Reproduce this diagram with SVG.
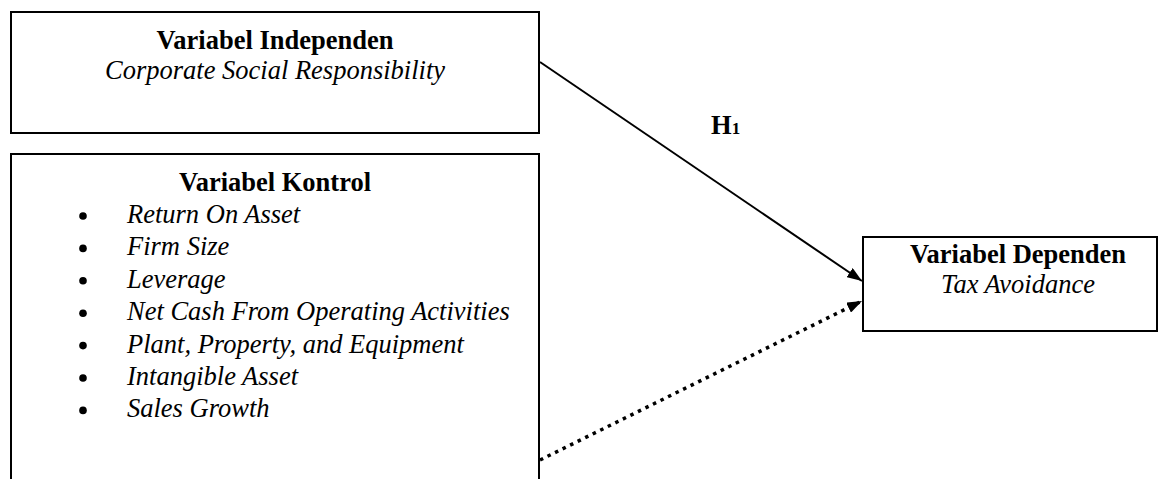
<svg xmlns="http://www.w3.org/2000/svg" width="1159" height="479" viewBox="0 0 1159 479">
<style>
.box{fill:#fff;stroke:#000;stroke-width:2}
.t{font-family:"Liberation Serif","Times New Roman",serif;font-size:26.5px;fill:#000}
.b{font-weight:bold}
.i{font-style:italic}
.c{text-anchor:middle}
.ln{fill:none;stroke:#000;stroke-width:2}
.dot{fill:none;stroke:#000;stroke-width:3.5;stroke-dasharray:3.5 4.9}
</style>
<defs>
<marker id="ah" markerWidth="15" markerHeight="11" refX="15" refY="5.5" orient="auto" markerUnits="userSpaceOnUse">
<path d="M0,0 L15,5.5 L0,11 Z" fill="#000"/>
</marker>
</defs>
<rect width="1159" height="479" fill="#fff"/>
<g id="independen">
<rect class="box" x="11" y="12" width="528" height="121"/>
<text class="t b c" x="275" y="49">Variabel Independen</text>
<text class="t i c" x="275" y="79">Corporate Social Responsibility</text>
</g>
<g id="kontrol">
<path class="box" d="M11,482 V154 H539 V482"/>
<text class="t b c" x="275" y="191">Variabel Kontrol</text>
<g fill="#000">
<circle cx="83" cy="216" r="3.8"/>
<circle cx="83" cy="248.4" r="3.8"/>
<circle cx="83" cy="280.8" r="3.8"/>
<circle cx="83" cy="313.2" r="3.8"/>
<circle cx="83" cy="345.6" r="3.8"/>
<circle cx="83" cy="378" r="3.8"/>
<circle cx="83" cy="410.4" r="3.8"/>
</g>
<text class="t i" x="127" y="223">Return On Asset</text>
<text class="t i" x="127" y="255.4">Firm Size</text>
<text class="t i" x="127" y="287.8">Leverage</text>
<text class="t i" x="127" y="320.2">Net Cash From Operating Activities</text>
<text class="t i" x="127" y="352.6">Plant, Property, and Equipment</text>
<text class="t i" x="127" y="385">Intangible Asset</text>
<text class="t i" x="127" y="417.4">Sales Growth</text>
</g>
<g id="dependen">
<rect class="box" x="863" y="237" width="294" height="94"/>
<text class="t b c" x="1018" y="263">Variabel Dependen</text>
<text class="t i c" x="1018" y="293">Tax Avoidance</text>
</g>
<g id="connectors">
<line class="ln" x1="540" y1="62" x2="862" y2="281" marker-end="url(#ah)"/>
<line class="dot" x1="540" y1="460" x2="862" y2="301" marker-end="url(#ah)"/>
<text class="t b" x="711" y="134">H<tspan font-size="17">1</tspan></text>
</g>
</svg>
